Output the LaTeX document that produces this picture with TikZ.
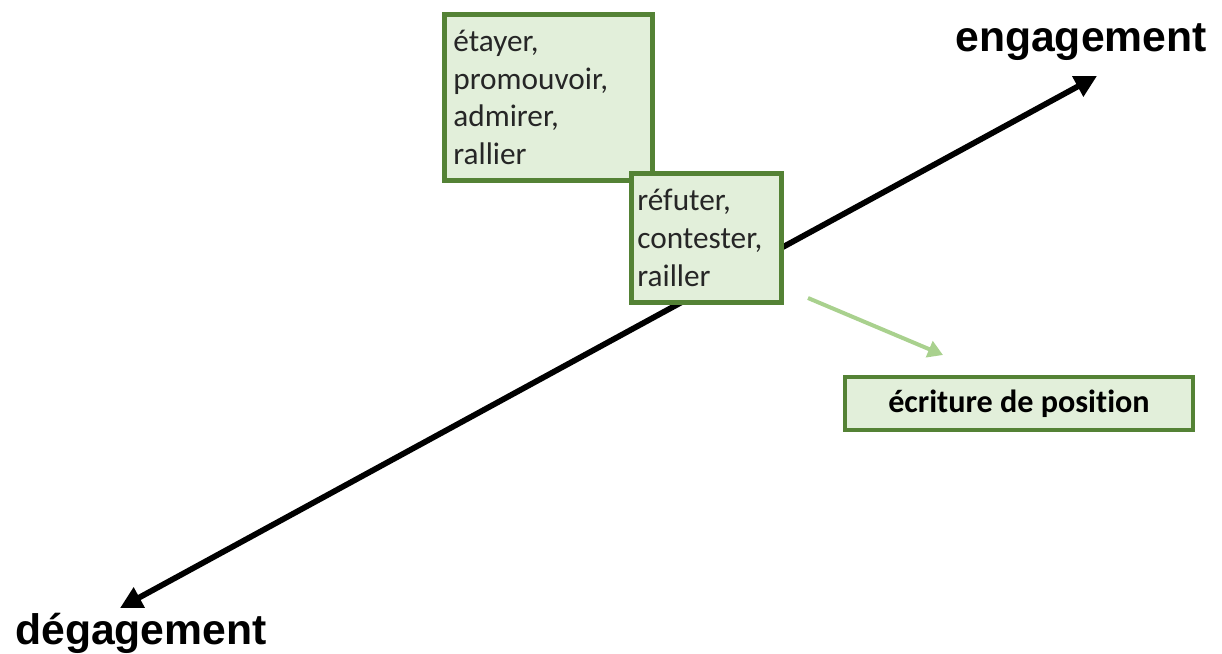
\documentclass[tikz,border=0pt]{standalone}
\usepackage{fontspec}
\setmainfont{Carlito}[Ligatures={NoCommon}]
\newfontfamily\axisfont{Liberation Sans}
\usetikzlibrary{arrows.meta}
\definecolor{boxfill}{RGB}{226,239,218}
\definecolor{boxline}{RGB}{84,130,53}
\definecolor{hintgreen}{RGB}{169,209,142}
\definecolor{verbtext}{RGB}{38,38,38}
\tikzset{
  verbbox/.style={
    draw=boxline, line width=0.095cm, fill=boxfill, text=verbtext,
    anchor=north west, inner sep=0pt,
    align=left, font=\fontsize{17.8}{21.5}\selectfont
  },
  axislabel/.style={font=\axisfont\bfseries\fontsize{24.3}{28}\selectfont, inner sep=0pt}
}
\begin{document}
\begin{tikzpicture}[x=0.02cm,y=-0.02cm]
  \useasboundingbox (0,0) rectangle (1222,653);
  % axis
  \coordinate (low) at (120,608);
  \coordinate (high) at (1097,76);
  \draw[line width=0.115cm, {Triangle[length=0.44cm,width=0.44cm]}-{Triangle[length=0.44cm,width=0.44cm]}] (low) -- (high);
  \node[axislabel] (eng) at (1081,42) {engagement};
  \node[axislabel] (deg) at (141,633) {dégagement};
  % verb boxes
  \node[verbbox, minimum width=4.16cm, minimum height=3.32cm, text width=3.9cm] (praise) at (442,12)
    {\hspace*{0.05cm}étayer,\\ \hspace*{0.05cm}promouvoir,\\ \hspace*{0.05cm}admirer,\\ \hspace*{0.05cm}rallier};
  \node[verbbox, minimum width=3.0cm, minimum height=2.58cm, text width=2.76cm] (blame) at (629,171)
    {réfuter,\\ contester,\\ railler};
  % position writing
  \coordinate (hintstart) at (808,298);
  \coordinate (hintend) at (943,355);
  \draw[hintgreen, line width=0.08cm, -{Triangle[length=0.3cm,width=0.34cm]}] (hintstart) -- (hintend);
  \node[verbbox, anchor=center, align=center, text=black, font=\bfseries\fontsize{18.3}{21}\selectfont,
    minimum width=6.96cm, minimum height=1.06cm] (position) at (1019,403.5) {écriture de position};
\end{tikzpicture}
\end{document}
